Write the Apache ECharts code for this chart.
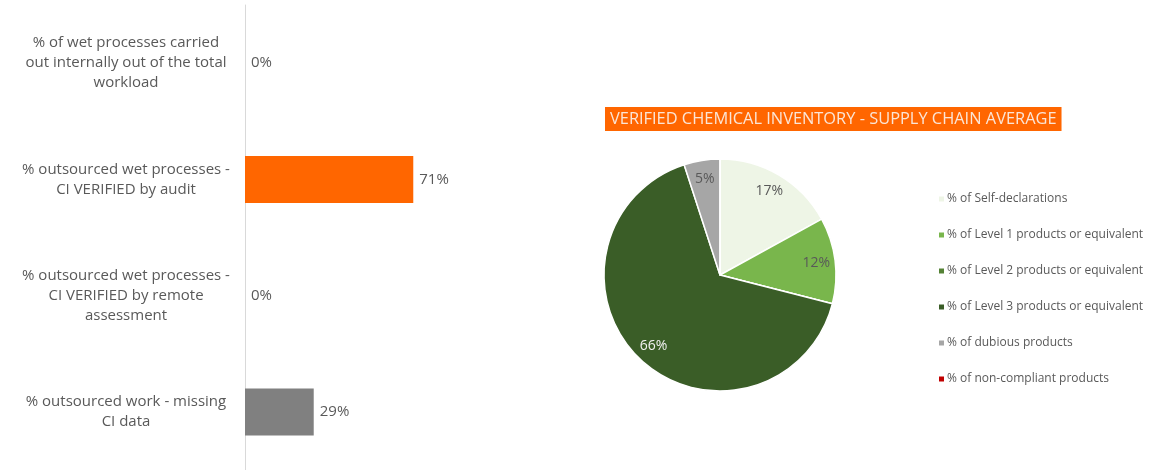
<!DOCTYPE html>
<html>
<head>
<meta charset="utf-8">
<script src="https://cdn.jsdelivr.net/npm/echarts@6/dist/echarts.min.js"></script>
<style>
html, body { margin: 0; padding: 0; background: #fff; }
#main { width: 1151px; height: 470px; }
</style>
</head>
<body>
<div id="main"></div>
<script>
// bar chart (left)
var barCategories = [
    '% of wet processes carried\nout internally out of the total\nworkload',
    '% outsourced wet processes -\nCI VERIFIED by audit',
    '% outsourced wet processes -\nCI VERIFIED by remote\nassessment',
    '% outsourced work - missing\nCI data'
];
var barValues = [0, 0.71, 0, 0.29];
var barColors = ['#FF6600', '#FF6600', '#FF6600', '#808080'];

// pie chart (right)
var pieTitle = 'VERIFIED CHEMICAL INVENTORY - SUPPLY CHAIN AVERAGE';
var pieNames = [
    '% of Self-declarations',
    '% of Level 1 products or equivalent',
    '% of Level 2 products or equivalent',
    '% of Level 3 products or equivalent',
    '% of dubious products',
    '% of non-compliant products'
];
var pieValues = [17, 12, 0, 66, 5, 0];
var pieColors = ['#EEF5E6', '#79B64C', '#548235', '#3A5D27', '#A6A6A6', '#C00000'];
var pieLabelColors = ['#595959', '#595959', '#595959', '#F2F2F2', '#595959', '#595959'];

var FONT = 'Open Sans';

var barData = [];
for (var i = 0; i < barValues.length; i++) {
    barData.push({ value: barValues[i], itemStyle: { color: barColors[i] } });
}
var pieData = [];
var pieLabelData = [];
for (var j = 0; j < pieValues.length; j++) {
    pieData.push({ name: pieNames[j], value: pieValues[j], itemStyle: { color: pieColors[j] } });
    pieLabelData.push({ name: pieNames[j], value: pieValues[j], label: { color: pieLabelColors[j] } });
}

var myChart = echarts.init(document.getElementById('main'));
var option = {
    animation: false,
    textStyle: { fontFamily: FONT },
    title: {
        text: pieTitle,
        left: 605,
        top: 107,
        padding: [2, 5, 2, 5],
        backgroundColor: '#FF6600',
        textStyle: { color: '#FBE5D6', fontSize: 16.4, lineHeight: 20, fontWeight: 'normal', fontFamily: FONT }
    },
    legend: {
        orient: 'vertical',
        left: 932,
        top: 188,
        itemWidth: 7,
        itemHeight: 7,
        itemGap: 24,
        icon: 'rect',
        data: pieNames,
        textStyle: { color: '#595959', fontSize: 12, fontFamily: FONT, padding: [0, 0, 0, -3] }
    },
    grid: { left: 245, top: 5, width: 237, bottom: 0, containLabel: false },
    xAxis: {
        type: 'value',
        min: 0,
        max: 1,
        show: false
    },
    yAxis: {
        type: 'category',
        inverse: true,
        data: barCategories,
        axisLine: { show: true, lineStyle: { color: '#D9D9D9', width: 1 } },
        axisTick: { show: false },
        axisLabel: {
            color: '#595959',
            fontSize: 15,
            lineHeight: 20,
            align: 'center',
            margin: 119,
            fontFamily: FONT
        }
    },
    series: [
        {
            type: 'bar',
            data: barData,
            barWidth: 47,
            label: {
                show: true,
                position: 'right',
                distance: 6,
                color: '#595959',
                fontSize: 15,
                fontFamily: FONT,
                formatter: function (p) { return Math.round(p.value * 100) + '%'; }
            }
        },
        {
            type: 'pie',
            center: [720, 275],
            radius: [0, 116],
            startAngle: 90,
            clockwise: true,
            data: pieData,
            label: { show: false },
            labelLine: { show: false },
            itemStyle: { borderColor: '#fff', borderWidth: 1.5 },
            emphasis: { disabled: true }
        },
        {
            type: 'pie',
            center: [720, 275],
            radius: [72, 116],
            startAngle: 90,
            clockwise: true,
            silent: true,
            data: pieLabelData,
            itemStyle: { color: 'rgba(0,0,0,0)', borderWidth: 0 },
            labelLine: { show: false },
            label: {
                show: true,
                position: 'inside',
                fontSize: 14,
                fontFamily: FONT,
                formatter: function (p) { return p.value ? p.value + '%' : ''; }
            },
            emphasis: { disabled: true }
        }
    ]
};
option && myChart.setOption(option);
</script>
</body>
</html>
